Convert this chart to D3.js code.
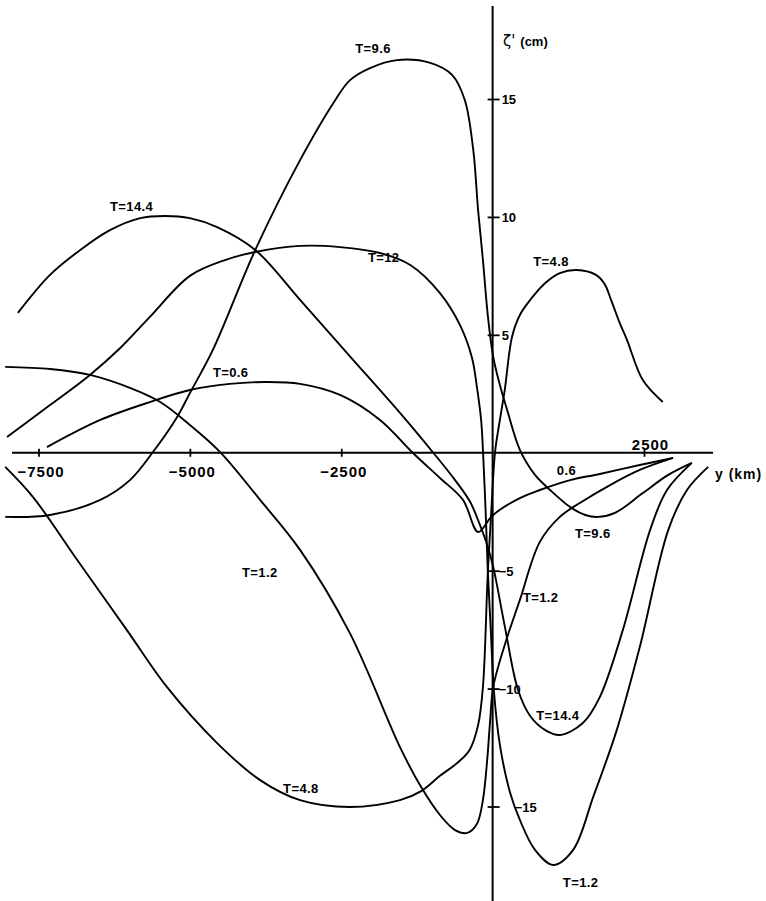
<!DOCTYPE html>
<html>
<head>
<meta charset="utf-8">
<script src="https://cdn.jsdelivr.net/npm/d3@7"></script>
<style>
  html, body { margin: 0; padding: 0; background: #fff; }
  svg { display: block; }
  text { font-family: "Liberation Sans", Arial, sans-serif; font-weight: bold; fill: #000; }
</style>
</head>
<body>
<svg id="chart" width="766" height="901"></svg>
<script>
// Surface elevation ζ' (cm) against distance y (km) at several times T
const xTicks = [-7500, -5000, -2500, 2500];
const yTicks = [-15, -10, -5, 5, 10, 15];
const xTitle = "y (km)";
const yTitleSymbol = "ζ'";
const yTitleUnit = "(cm)";

// [y (km), ζ' (cm)] for each time
const seriesT0_6 = [[-7360,0.24],[-6480,1.39],[-5660,2.15],[-5000,2.66],[-4340,2.92],[-3730,3.0],[-3180,2.92],
  [-2520,2.45],[-1860,1.39],[-1320,0],[-870,-1.07],[-490,-2.0],[-240,-3.36],[-40,-2.77],[70,-2.51],
  [450,-1.92],[780,-1.58],[1280,-1.16],[1770,-0.9],[2430,-0.52],[2980,-0.22]];

const seriesT1_2 = [[-8050,3.64],[-7310,3.55],[-6650,3.3],[-5990,2.75],[-5490,2.15],[-5000,1.18],[-4500,0.03],
  [-3840,-2.0],[-3180,-4.12],[-2360,-7.64],[-1530,-12.48],[-1200,-14.09],[-870,-15.36],[-620,-16.0],
  [-420,-16.12],[-260,-15.74],[-160,-14.72],[-90,-13.03],[-40,-11.33],[10,-9.93],[200,-8.15],[450,-6.24],
  [780,-3.78],[1110,-2.72],[1440,-2.13],[1940,-1.37],[2430,-0.73],[2980,-0.22]];

const seriesT4_8 = [[-8050,-0.6],[-7590,-1.88],[-6860,-4.55],[-6040,-7.52],[-5380,-9.93],[-4550,-12.31],
  [-3840,-13.88],[-3180,-14.73],[-2360,-15.02],[-1530,-14.73],[-1180,-14.35],[-870,-13.7],[-560,-13.1],
  [-380,-12.6],[-240,-11.55],[-160,-9.93],[-80,-5.1],[-30,-2.85],[40,0.03],[120,1.39],[200,2.66],
  [320,4.91],[450,5.84],[620,6.48],[870,7.2],[1110,7.62],[1390,7.75],[1700,7.55],[1850,7.15],
  [1960,6.45],[2100,5.5],[2220,4.78],[2480,3.08],[2810,2.15]];

const seriesT9_6 = [[-8050,-2.72],[-7310,-2.64],[-6480,-2.0],[-5990,-1.16],[-5610,0.03],[-5210,1.52],
  [-5000,2.53],[-4620,4.36],[-3920,8.6],[-3180,12.41],[-2600,14.95],[-2355,15.8],[-2025,16.31],
  [-1580,16.65],[-1030,16.53],[-670,16.02],[-460,14.96],[-320,12.84],[-240,10.29],[-160,8.17],[-80,5.84],
  [10,4.06],[120,2.87],[240,1.81],[450,0.12],[700,-0.94],[950,-1.58],[1280,-2.3],[1530,-2.64],
  [1740,-2.72],[2020,-2.55],[2480,-1.71],[2900,-0.94],[3290,-0.43]];

const seriesT12 = [[-8020,0.67],[-7310,2.02],[-6650,3.3],[-6150,4.44],[-5660,5.76],[-5000,7.5],[-4420,8.17],
  [-3920,8.51],[-3180,8.77],[-2520,8.72],[-1860,8.47],[-1360,7.96],[-870,6.77],[-540,5.42],[-340,4.02],
  [-260,2.79],[-190,1.39],[-160,0.12],[-110,-2.85],[-80,-4.97],[-30,-7.52],[20,-10.06],[120,-12.39],
  [290,-14.43],[450,-15.57],[700,-16.84],[1000,-17.48],[1330,-16.84],[1660,-14.6],[2050,-11.76],
  [2430,-8.24],[2900,-3.28],[3210,-1.58],[3560,-0.6]];

const seriesT14_4 = [[-7840,5.93],[-7310,7.54],[-6810,8.6],[-6320,9.44],[-5820,9.95],[-5410,10.04],
  [-5000,9.95],[-4550,9.57],[-3920,8.6],[-3180,6.48],[-2360,4.1],[-1530,1.69],[-980,0],[-620,-1.16],
  [-370,-2.09],[-210,-3.06],[-90,-3.91],[10,-4.84],[200,-7.35],[420,-10.06],[620,-11.16],[870,-11.76],
  [1110,-11.97],[1490,-11.46],[1770,-10.36],[2150,-7.52],[2600,-3.28],[2880,-1.58],[3290,-0.43]];

const allSeries = [seriesT0_6, seriesT1_2, seriesT4_8, seriesT9_6, seriesT12, seriesT14_4];

// Curve labels, anchored at [y (km), ζ' (cm)]
const labelTexts = ["T=9.6", "T=14.4", "T=12", "T=0.6", "T=4.8", "0.6", "T=9.6", "T=1.2", "T=14.4", "T=1.2", "T=1.2", "T=4.8"];
const labelKm    = [-2270, -6320, -2060, -4620, 670, 1060, 1360, 500, 720, 1160, -4140, -3460];
const labelCm    = [16.95, 10.25, 8.09, 3.21, 7.92, -0.94, -3.61, -6.33, -11.33, -18.41, -5.27, -14.43];

const svg = d3.select("#chart");
const x = d3.scaleLinear().domain([-7500, 2500]).range([38.5, 644]);
const y = d3.scaleLinear().domain([-15, 15]).range([806.5, 99]);

const fmt = d => d < 0 ? "\u2212" + Math.abs(d) : String(d);

// Horizontal axis
const gx = svg.append("g").attr("transform", `translate(0,${y(0)})`);
gx.append("line").attr("x1", 12).attr("x2", 713).attr("stroke", "#000").attr("stroke-width", 2);
gx.call(d3.axisBottom(x).tickValues(xTicks).tickSizeOuter(0).tickFormat(fmt));
gx.select(".domain").remove();
gx.selectAll(".tick line").attr("y1", -4).attr("y2", 4).attr("stroke", "#000").attr("stroke-width", 1.8);
gx.selectAll(".tick text")
  .attr("font-size", 15).attr("letter-spacing", 1).attr("fill", "#000")
  .attr("font-family", '"Liberation Sans", Arial, sans-serif').attr("font-weight", "bold")
  .attr("dy", null)
  .attr("y", d => d > 0 ? -3 : 24)
  .attr("dx", d => d > 0 ? 6 : 2);

svg.append("text").attr("x", 715).attr("y", 479).attr("font-size", 14)
  .attr("letter-spacing", 1).text(xTitle);

// Vertical axis
const gy = svg.append("g").attr("transform", `translate(${x(0)},0)`);
gy.append("line").attr("y1", 6).attr("y2", 901).attr("stroke", "#000").attr("stroke-width", 2);
gy.call(d3.axisRight(y).tickValues(yTicks).tickSizeOuter(0).tickFormat(fmt));
gy.select(".domain").remove();
gy.selectAll(".tick line").attr("x1", -5).attr("x2", 7).attr("stroke", "#000").attr("stroke-width", 1.8);
gy.selectAll(".tick text")
  .attr("font-size", 13).attr("fill", "#000").attr("text-anchor", "start")
  .attr("font-family", '"Liberation Sans", Arial, sans-serif').attr("font-weight", "bold")
  .attr("x", d => d === -15 ? 22 : (d < 0 ? 6 : 9))
  .attr("dy", "0.36em");

const yt = svg.append("text").attr("x", 503).attr("y", 46);
yt.append("tspan").attr("font-family", '"DejaVu Sans", sans-serif').attr("font-weight", "normal")
  .attr("font-size", 15).text(yTitleSymbol);
yt.append("tspan").attr("dx", 5).attr("font-size", 13).text(yTitleUnit);

// Curves
const line = d3.line()
  .x(d => x(d[0]))
  .y(d => y(d[1]))
  .curve(d3.curveCatmullRom.alpha(0.5));

svg.append("g").selectAll("path").data(allSeries).join("path")
  .attr("d", line)
  .attr("fill", "none")
  .attr("stroke", "#000")
  .attr("stroke-width", 1.9)
  .attr("stroke-linejoin", "round");

// Labels
svg.append("g").selectAll("text").data(labelTexts).join("text")
  .attr("x", (d, i) => x(labelKm[i]))
  .attr("y", (d, i) => y(labelCm[i]))
  .attr("font-size", 13)
  .attr("letter-spacing", 0.4)
  .text(d => d);
</script>
</body>
</html>
